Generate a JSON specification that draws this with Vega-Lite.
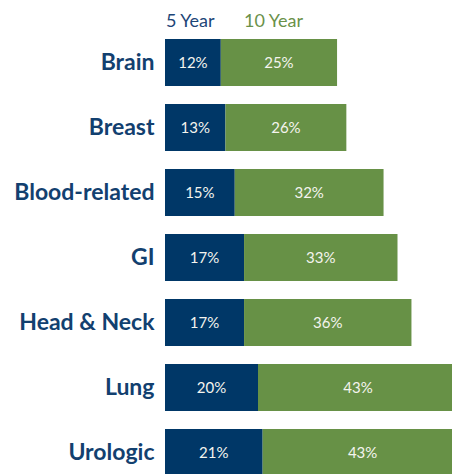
{
  "$schema": "https://vega.github.io/schema/vega-lite/v6.json",
  "width": 287,
  "height": 444,
  "autosize": {"type": "none"},
  "padding": {"left": 165, "top": 30, "right": 0, "bottom": 0},
  "background": "white",
  "config": {"view": {"stroke": null}},
  "data": {
    "values": [
      {"cancer": "Brain", "period": "5 Year", "value": 0.12},
      {"cancer": "Brain", "period": "10 Year", "value": 0.25},
      {"cancer": "Breast", "period": "5 Year", "value": 0.13},
      {"cancer": "Breast", "period": "10 Year", "value": 0.26},
      {"cancer": "Blood-related", "period": "5 Year", "value": 0.15},
      {"cancer": "Blood-related", "period": "10 Year", "value": 0.32},
      {"cancer": "GI", "period": "5 Year", "value": 0.17},
      {"cancer": "GI", "period": "10 Year", "value": 0.33},
      {"cancer": "Head & Neck", "period": "5 Year", "value": 0.17},
      {"cancer": "Head & Neck", "period": "10 Year", "value": 0.36},
      {"cancer": "Lung", "period": "5 Year", "value": 0.20},
      {"cancer": "Lung", "period": "10 Year", "value": 0.43},
      {"cancer": "Urologic", "period": "5 Year", "value": 0.21},
      {"cancer": "Urologic", "period": "10 Year", "value": 0.43}
    ]
  },
  "transform": [
    {"stack": "value", "groupby": ["cancer"], "sort": [{"field": "period", "order": "descending"}], "as": ["v0", "v1"]}
  ],
  "encoding": {
    "y": {
      "field": "cancer",
      "type": "nominal",
      "sort": ["Brain", "Breast", "Blood-related", "GI", "Head & Neck", "Lung", "Urologic"],
      "scale": {"range": [0, 455], "paddingInner": 0.277, "paddingOuter": 0.1385},
      "axis": {
        "title": null,
        "domain": false,
        "ticks": false,
        "labelFont": "Lato",
        "labelFontSize": 23,
        "labelFontWeight": "bold",
        "labelColor": "#12406f",
        "labelPadding": 11
      }
    }
  },
  "layer": [
    {
      "mark": {"type": "bar", "clip": true},
      "encoding": {
        "x": {
          "field": "v0",
          "type": "quantitative",
          "scale": {"domain": [0, 0.6172], "nice": false, "zero": true},
          "axis": null
        },
        "x2": {"field": "v1"},
        "color": {
          "field": "period",
          "type": "nominal",
          "scale": {"domain": ["5 Year", "10 Year"], "range": ["#003767", "#679146"]},
          "legend": {
            "orient": "none",
            "legendX": -17,
            "legendY": -17,
            "direction": "horizontal",
            "title": null,
            "symbolSize": 0,
            "symbolOpacity": 0,
            "symbolStrokeWidth": 0,
            "labelOffset": 0,
            "columnPadding": 10,
            "labelFont": "Lato",
            "labelFontSize": 18,
            "labelColor": {"expr": "datum.value == '5 Year' ? '#1d4677' : '#6a914a'"},
            "padding": 0
          }
        }
      }
    },
    {
      "transform": [
        {"fold": ["v0", "v1"], "as": ["k", "pos"]},
        {"aggregate": [{"op": "mean", "field": "pos", "as": "mid"}, {"op": "max", "field": "value", "as": "value"}], "groupby": ["cancer", "period"]}
      ],
      "mark": {"type": "text", "color": "#f4f4ee", "font": "Lato", "fontSize": 15, "baseline": "middle", "align": "center"},
      "encoding": {
        "x": {"field": "mid", "type": "quantitative"},
        "text": {"field": "value", "type": "quantitative", "format": ".0%"}
      }
    }
  ]
}
